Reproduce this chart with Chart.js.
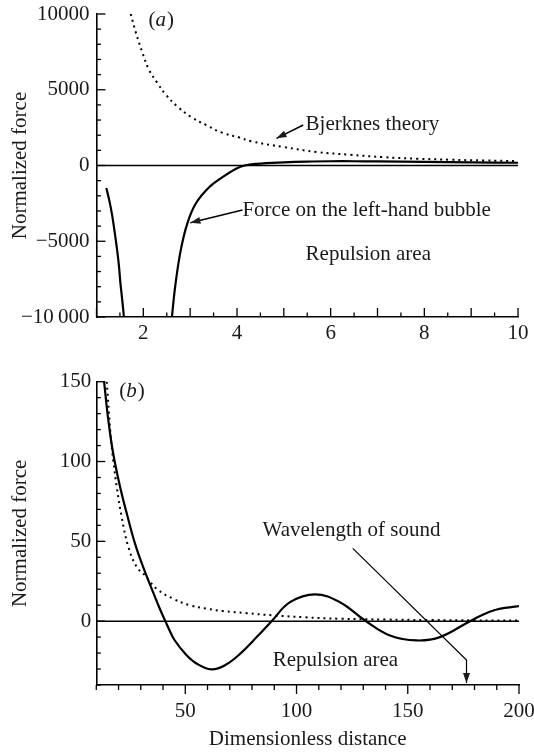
<!DOCTYPE html>
<html><head><meta charset="utf-8">
<script src="https://cdn.jsdelivr.net/npm/chart.js@4.4.1/dist/chart.umd.min.js"></script>
<style>
html,body{margin:0;padding:0;background:#fff;}
#wrap{position:relative;width:534px;height:752px;overflow:hidden;}
canvas{position:absolute;left:0;}
#c1{top:0;} #c2{top:360px;}
</style></head><body>
<div id="wrap"><canvas id="c1" width="534" height="360" style="width:534px;height:360px"></canvas><canvas id="c2" width="534" height="392" style="width:534px;height:392px"></canvas></div>
<script>
// ---------- DATA ----------
// Panel (a)
const aBjerknesX = [1.73, 1.84, 1.98, 2.12, 2.30, 2.48, 2.73, 3.01, 3.34, 3.69, 4.05, 4.30, 4.99, 5.71, 6.42, 7.13, 7.85, 8.56, 9.28, 10.0];
const aBjerknesY = [10000, 8780, 7450, 6330, 5450, 4670, 3890, 3220, 2670, 2150, 1850, 1600, 1220, 890, 710, 550, 450, 380, 330, 290];
// force on the left-hand bubble: branch left of the singular region, and branch right of it
const aForceLeftX = [1.21, 1.28, 1.34, 1.39, 1.44, 1.48, 1.51, 1.54, 1.57, 1.60, 1.63];
const aForceLeftY = [-1490, -2400, -3390, -4450, -5570, -6650, -7750, -8600, -9500, -10500, -11500];
const aForceRightX = [2.56, 2.62, 2.69, 2.80, 2.94, 3.12, 3.41, 3.69, 3.98, 4.16, 4.41, 5.0, 5.5, 6.0, 6.5, 7.0, 8.0, 9.0, 10.0];
const aForceRightY = [-11900, -9710, -7750, -5570, -3820, -2510, -1420, -770, -220, 0, 110, 210, 260, 280, 280, 270, 240, 210, 180];
const aXTicks = [2, 4, 6, 8, 10];
const aXTickLabels = ['2', '4', '6', '8', '10'];
const aYTicks = [-10000, -5000, 0, 5000, 10000];
const aYTickLabels = ['\u221210\u2009000', '\u22125000', '0', '5000', '10000'];

// Panel (b)
const bForceX = [13.5, 15.4, 17.6, 20.7, 23.7, 27.4, 31.9, 36.4, 38.6, 40.9, 43, 45, 50, 55, 61.8, 68, 74.6, 82.1, 88.8, 97.1, 108.3, 119.5, 130.8, 142, 154, 164.5, 178, 188.5, 200];
const bForceY = [150, 126, 105, 84, 67.4, 48.6, 30.8, 15.1, 7.6, 0.4, -6, -11.5, -20.5, -26.5, -30.2, -27.5, -20.5, -10, 0, 11.9, 16.8, 11.9, 0.4, -9, -12.1, -10, 0, 6.7, 9.4];
const bBjerknesX = [14.7, 16.5, 17.6, 19.2, 21.4, 24.4, 28.2, 31.9, 37.1, 44.6, 52.1, 59.6, 67.1, 77.6, 89.6, 104, 119.5, 140, 160, 180, 200];
const bBjerknesY = [150, 115.5, 100.9, 84, 65.3, 46.5, 33.9, 28.7, 20.3, 14.0, 9.9, 7.8, 6.3, 5.0, 3.6, 2.4, 1.5, 1.0, 0.7, 0.5, 0.4];
const bXTicks = [50, 100, 150, 200];
const bXTickLabels = ['50', '100', '150', '200'];
const bYTicks = [0, 50, 100, 150];
const bYTickLabels = ['0', '50', '100', '150'];

// Annotations (data coordinates)
const aNotes = [
  {text: 'Bjerknes theory', x: 5.465, y: 2739},
  {text: 'Force on the left-hand bubble', x: 4.116, y: -2983},
  {text: 'Repulsion area', x: 5.465, y: -5842}
];
const aArrows = [
  [[5.414, 2673], [4.844, 1795]],
  [[4.116, -2937], [3.005, -3776]]
];
const aTag = {letter: 'a', x: 2.108, y: 9558};
const bNotes = [
  {text: 'Wavelength of sound', x: 84.7, y: 57.0},
  {text: 'Repulsion area', x: 89.3, y: -24.6}
];
const bArrows = [
  [[125.3, 45.6], [176.4, -24.4], [176.4, -38.7]]
];
const bTag = {letter: 'b', x: 20.3, y: 143.6};

// ---------- helpers ----------
const FONT = "'Liberation Serif', 'Times New Roman', serif";
const INK = '#1a1a1a';
const pts = (xs, ys) => xs.map((x, i) => ({x: x, y: ys[i]}));

const tickMarks = {
  id: 'tickMarks',
  afterDatasetsDraw(chart, args, opts) {
    const ctx = chart.ctx, a = chart.chartArea;
    ctx.save();
    ctx.strokeStyle = '#000';
    ctx.lineWidth = 1.3;
    for (const t of opts.axes) {
      const s = chart.scales[t.id];
      const n = Math.round((t.max - t.min) / t.step);
      for (let i = 0; i <= n; i++) {
        const v = t.min + i * t.step;
        const r = v / t.major;
        const major = Math.abs(r - Math.round(r)) < 1e-6;
        const len = major ? t.long : t.short;
        const p = s.getPixelForValue(v);
        ctx.beginPath();
        if (s.isHorizontal()) {
          ctx.moveTo(p, a.bottom);
          ctx.lineTo(p, a.bottom + t.dir * len);
        } else {
          ctx.moveTo(a.left, p);
          ctx.lineTo(a.left + len, p);
        }
        ctx.stroke();
      }
    }
    ctx.restore();
  }
};

function arrowHead(ctx, x1, y1, x2, y2, L, W) {
  const ang = Math.atan2(y2 - y1, x2 - x1);
  ctx.beginPath();
  ctx.moveTo(x2, y2);
  ctx.lineTo(x2 - L * Math.cos(ang) + W * Math.sin(ang), y2 - L * Math.sin(ang) - W * Math.cos(ang));
  ctx.lineTo(x2 - L * Math.cos(ang) - W * Math.sin(ang), y2 - L * Math.sin(ang) + W * Math.cos(ang));
  ctx.closePath();
  ctx.fill();
}

const notes = {
  id: 'notes',
  afterDraw(chart, args, opts) {
    const ctx = chart.ctx, xs = chart.scales.x, ys = chart.scales.y;
    const X = v => xs.getPixelForValue(v), Y = v => ys.getPixelForValue(v);
    ctx.save();
    ctx.fillStyle = INK;
    ctx.strokeStyle = '#000';
    ctx.textBaseline = 'middle';
    ctx.textAlign = 'left';
    ctx.font = '21px ' + FONT;
    for (const n of opts.notes) ctx.fillText(n.text, X(n.x), Y(n.y));
    // panel tag: upright parentheses, italic letter
    let px = X(opts.tag.x); const py = Y(opts.tag.y);
    ctx.font = '21px ' + FONT; ctx.fillText('(', px, py); px += ctx.measureText('(').width;
    ctx.font = 'italic 21px ' + FONT; ctx.fillText(opts.tag.letter, px, py); px += ctx.measureText(opts.tag.letter).width + 1;
    ctx.font = '21px ' + FONT; ctx.fillText(')', px, py);
    // arrows
    ctx.lineWidth = opts.arrowWidth;
    for (const path of opts.arrows) {
      ctx.beginPath();
      path.forEach((p, i) => { if (i === 0) ctx.moveTo(X(p[0]), Y(p[1])); else ctx.lineTo(X(p[0]), Y(p[1])); });
      ctx.stroke();
      const p1 = path[path.length - 2], p2 = path[path.length - 1];
      arrowHead(ctx, X(p1[0]), Y(p1[1]), X(p2[0]), Y(p2[1]), 10, 3.5);
    }
    ctx.restore();
  }
};

function fitAxis(size, horizontal) {
  return function (scale) {
    if (horizontal) scale.height = size; else scale.width = size;
    scale.paddingLeft = 0; scale.paddingRight = 0; scale.paddingTop = 0; scale.paddingBottom = 0;
  };
}

function setTicks(values) {
  return function (scale) { scale.ticks = values.map(v => ({value: v})); };
}

function curve(data, dotted) {
  return {
    data: data, borderColor: '#000', borderWidth: dotted ? 2 : 2.2,
    borderDash: dotted ? [2, 4] : [], pointRadius: 0, tension: 0.4
  };
}

function buildChart(canvasId, c) {
  const datasets = [
    {data: [{x: c.xmin, y: 0}, {x: c.xmax, y: 0}], borderColor: '#000', borderWidth: 1.5, pointRadius: 0, tension: 0},
    curve(c.dotted, true)
  ].concat(c.solids.map(s => curve(s, false)));
  return new Chart(document.getElementById(canvasId), {
    type: 'line',
    data: {datasets: datasets},
    options: {
      responsive: false,
      animation: false,
      devicePixelRatio: 1,
      layout: {padding: c.padding},
      plugins: {
        legend: {display: false},
        tooltip: {enabled: false},
        tickMarks: {axes: c.tickAxes},
        notes: {notes: c.notes, arrows: c.arrows, tag: c.tag, arrowWidth: c.arrowWidth}
      },
      scales: {
        x: {
          type: 'linear', min: c.xmin, max: c.xmax,
          grid: {display: false, drawTicks: false},
          border: {display: true, color: '#000', width: 1.6},
          afterBuildTicks: setTicks(c.xTicks),
          afterFit: fitAxis(c.xAxisHeight, true),
          ticks: {
            autoSkip: false, maxRotation: 0, padding: c.xTickPad, color: INK,
            font: {family: FONT, size: 21},
            callback: v => c.xLabels[c.xTicks.indexOf(v)]
          },
          title: c.xTitle ? {display: true, text: c.xTitle, color: INK, font: {family: FONT, size: 21}, padding: {top: 0, bottom: 0}} : {display: false}
        },
        y: {
          type: 'linear', min: c.ymin, max: c.ymax,
          grid: {display: false, drawTicks: false},
          border: {display: true, color: '#000', width: 1.6},
          afterBuildTicks: setTicks(c.yTicks),
          afterFit: fitAxis(c.yAxisWidth, false),
          ticks: {
            autoSkip: false, padding: c.yTickPad, color: INK,
            font: {family: FONT, size: 21},
            callback: v => c.yLabels[c.yTicks.indexOf(v)]
          },
          title: {display: true, text: 'Normalized force', color: INK, font: {family: FONT, size: 21}, padding: {top: 5, bottom: 5}}
        }
      }
    },
    plugins: [tickMarks, notes]
  });
}

buildChart('c1', {
  xmin: 1, xmax: 10, ymin: -10000, ymax: 10000,
  dotted: pts(aBjerknesX, aBjerknesY),
  solids: [pts(aForceLeftX, aForceLeftY), pts(aForceRightX, aForceRightY)],
  xTicks: aXTicks, xLabels: aXTickLabels, yTicks: aYTicks, yLabels: aYTickLabels,
  padding: {left: 3, right: 16, top: 14, bottom: 0},
  xAxisHeight: 43, yAxisWidth: 93.5, xTickPad: 4, yTickPad: 7,
  tickAxes: [
    {id: 'x', min: 1, max: 10, step: 0.5, major: 1, long: 9, short: 4.5, dir: -1},
    {id: 'y', min: -10000, max: 10000, step: 1000, major: 5000, long: 9, short: 4.5}
  ],
  notes: aNotes, arrows: aArrows, tag: aTag, arrowWidth: 1.5
});

buildChart('c2', {
  xmin: 10, xmax: 200, ymin: -40, ymax: 150,
  dotted: pts(bBjerknesX, bBjerknesY),
  solids: [pts(bForceX, bForceY)],
  xTicks: bXTicks, xLabels: bXTickLabels, yTicks: bYTicks, yLabels: bYTickLabels,
  padding: {left: 3, right: 15, top: 21.7, bottom: 0},
  xAxisHeight: 67, yAxisWidth: 93.3, xTickPad: 13.5, yTickPad: 5,
  xTitle: 'Dimensionless distance',
  tickAxes: [
    {id: 'x', min: 10, max: 200, step: 10, major: 50, long: 9, short: 5, dir: 1},
    {id: 'y', min: -40, max: 150, step: 10, major: 50, long: 9, short: 4.5}
  ],
  notes: bNotes, arrows: bArrows, tag: bTag, arrowWidth: 1.2
});
</script>
</body></html>
